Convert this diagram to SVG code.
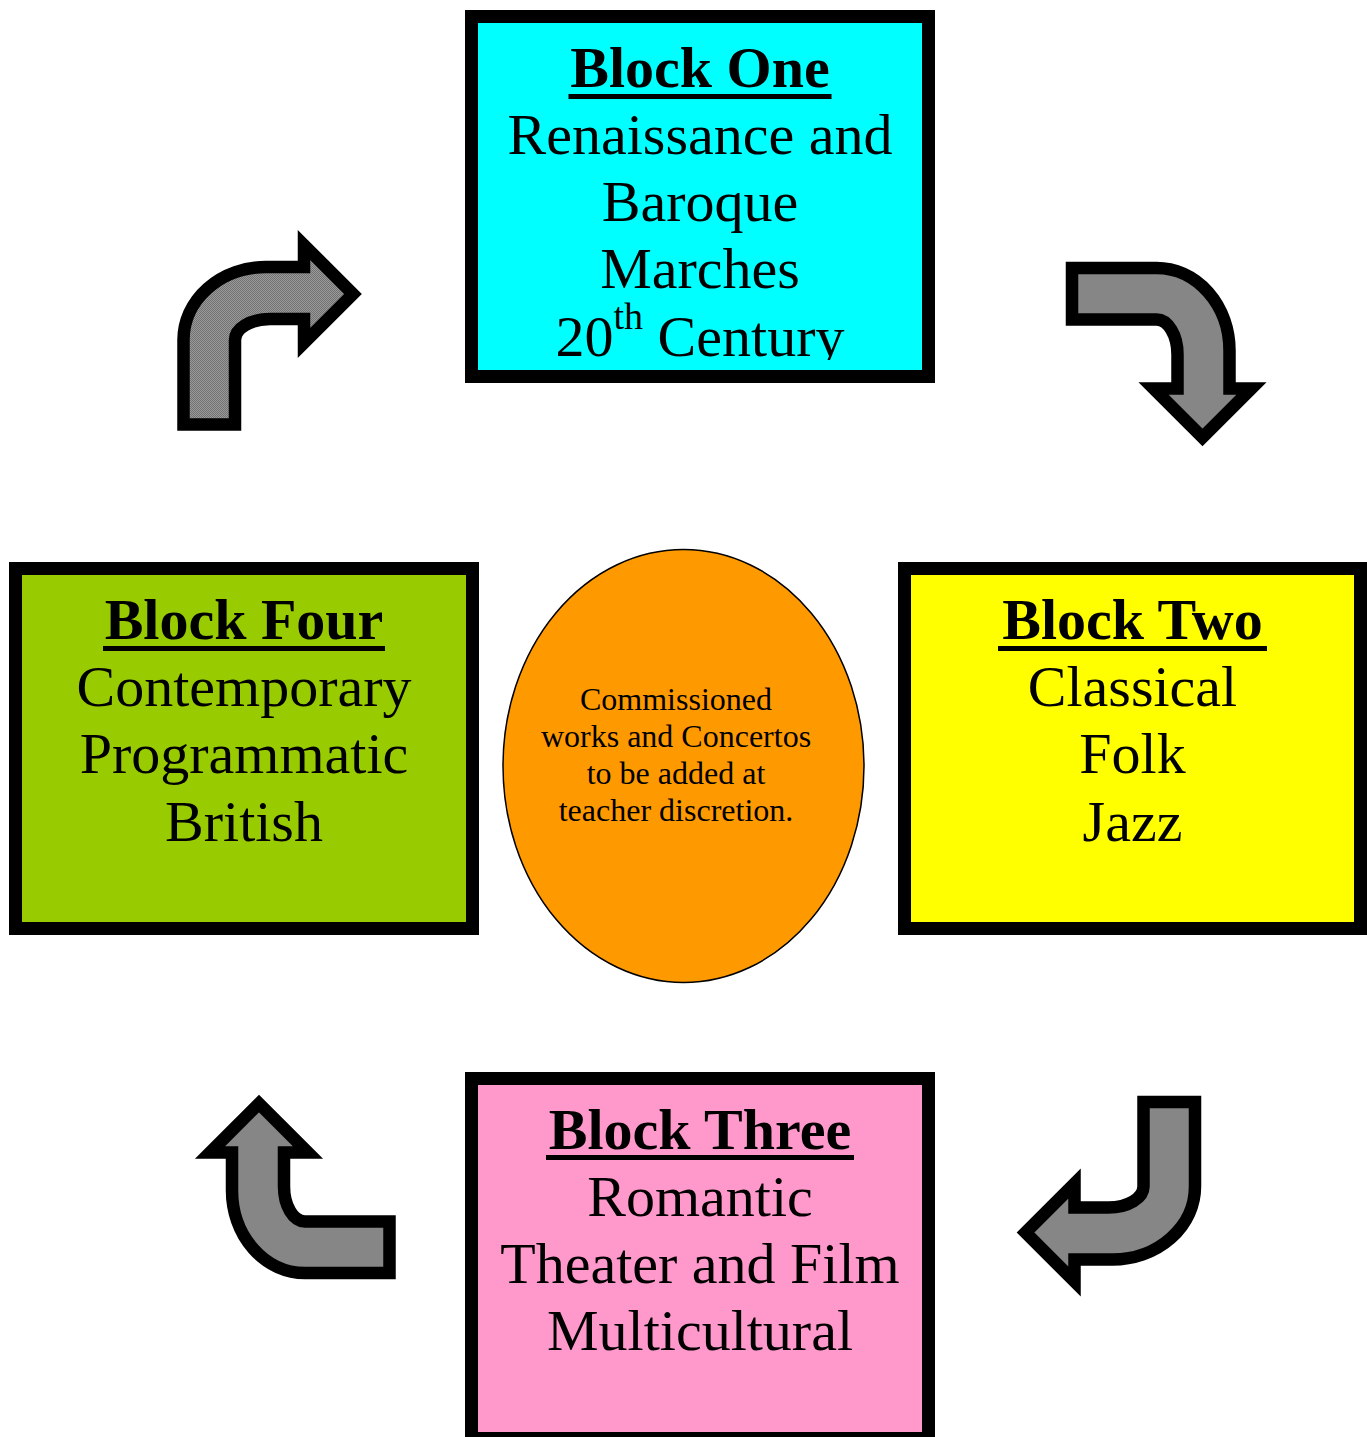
<svg xmlns="http://www.w3.org/2000/svg" width="1367" height="1437" viewBox="0 0 1367 1437">
<style>
.box{stroke:#000;stroke-width:13}
.t{font-family:"Liberation Serif","Times New Roman",serif;font-size:58px;fill:#000;text-anchor:middle}
.h{font-weight:bold}
.s{font-family:"Liberation Serif","Times New Roman",serif;font-size:32px;fill:#000;text-anchor:middle}
.arrow{fill:url(#dither);stroke:#000;stroke-width:12.5;stroke-linejoin:miter;stroke-miterlimit:10}
</style>
<defs>
<pattern id="dither" width="2" height="2" patternUnits="userSpaceOnUse">
<rect width="2" height="2" fill="#9a9a9a"/>
<rect width="1" height="1" fill="#727272"/>
<rect x="1" y="1" width="1" height="1" fill="#727272"/>
</pattern>
<path id="bent" d="M183.5 424.5 L183.5 340 A82.5 73 0 0 1 266 267 L304 267 L304 245 L353 294 L304 343 L304 319 L270 319 A35 21 0 0 0 235 340 L235 424.5 Z"/>
<clipPath id="clip1"><rect x="478" y="23" width="444" height="337"/></clipPath>
</defs>
<rect width="1367" height="1437" fill="#fff"/>

<g id="connectors">
<use href="#bent" class="arrow"/>
<use href="#bent" class="arrow" transform="translate(1167 354.5) rotate(90) translate(-270 -329.5)"/>
<use href="#bent" class="arrow" transform="translate(1108.5 1197) rotate(180) translate(-270 -329.5)"/>
<use href="#bent" class="arrow" transform="translate(294.5 1186.5) rotate(-90) translate(-270 -329.5)"/>
</g>

<g id="block-one">
<rect class="box" x="471.5" y="16.5" width="457" height="360" fill="#00ffff"/>
<g clip-path="url(#clip1)">
<text class="t h" x="700" y="87">Block One</text>
<rect x="568.5" y="94" width="263" height="5" fill="#000"/>
<text class="t" x="700" y="154">Renaissance and</text>
<text class="t" x="700" y="221">Baroque</text>
<text class="t" x="700" y="288">Marches</text>
<text class="t" x="700" y="356">20<tspan font-size="38" dy="-27">th</tspan><tspan dy="27"> Century</tspan></text>
</g>
</g>

<g id="block-two">
<rect class="box" x="904.5" y="568.5" width="456" height="360" fill="#ffff00"/>
<text class="t h" x="1132.5" y="639">Block Two</text>
<rect x="998" y="646" width="269" height="5" fill="#000"/>
<text class="t" x="1132.5" y="706">Classical</text>
<text class="t" x="1132.5" y="773">Folk</text>
<text class="t" x="1132.5" y="841">Jazz</text>
</g>

<g id="block-three">
<rect class="box" x="471.5" y="1078.5" width="457" height="360" fill="#ff99cc"/>
<text class="t h" x="700" y="1149">Block Three</text>
<rect x="546" y="1155" width="308" height="5" fill="#000"/>
<text class="t" x="700" y="1216">Romantic</text>
<text class="t" x="700" y="1283">Theater and Film</text>
<text class="t" x="700" y="1350">Multicultural</text>
</g>

<g id="block-four">
<rect class="box" x="15.5" y="568.5" width="457" height="360" fill="#99cc00"/>
<text class="t h" x="244" y="639">Block Four</text>
<rect x="103" y="646" width="282" height="5" fill="#000"/>
<text class="t" x="244" y="706">Contemporary</text>
<text class="t" x="244" y="773">Programmatic</text>
<text class="t" x="244" y="841">British</text>
</g>

<g id="center">
<ellipse cx="683.5" cy="766" rx="180.5" ry="216.5" fill="#ff9900" stroke="#000" stroke-width="1.5"/>
<text class="s" x="676" y="710">Commissioned</text>
<text class="s" x="676" y="747">works and Concertos</text>
<text class="s" x="676" y="784">to be added at</text>
<text class="s" x="676" y="821">teacher discretion.</text>
</g>
</svg>
